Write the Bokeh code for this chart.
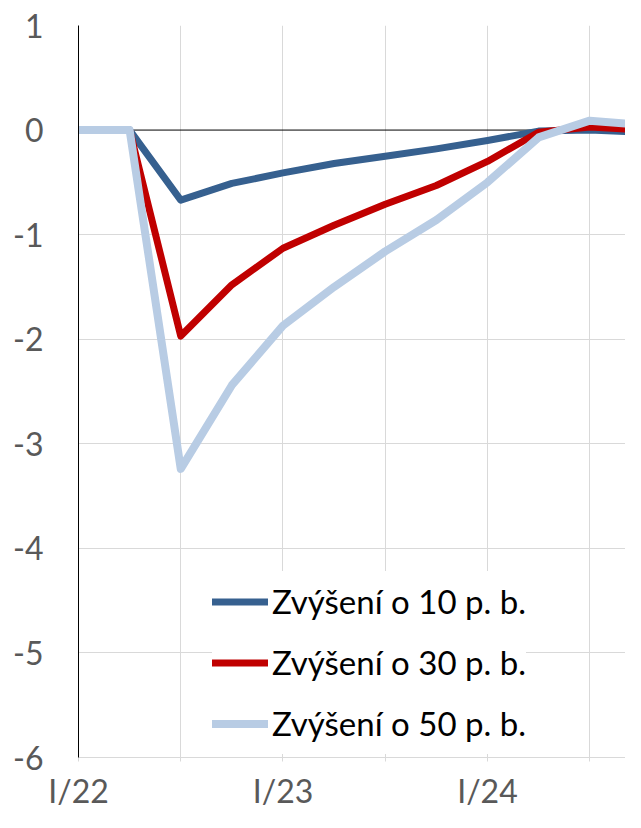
from bokeh.plotting import figure
from bokeh.models import Range1d, FixedTicker, Span, Legend, LegendItem
from bokeh.embed import file_html
from bokeh.resources import INLINE

quarters = list(range(12))
tick_labels = {0: "I/22", 4: "I/23", 8: "I/24"}
y_ticks = [-6, -5, -4, -3, -2, -1, 0, 1]
y_labels = {v: str(v) for v in y_ticks}
s10 = [0, 0, -0.67, -0.51, -0.41, -0.32, -0.25, -0.18, -0.10, -0.01, 0.00, -0.02]
s30 = [0, 0, -1.97, -1.48, -1.13, -0.91, -0.71, -0.53, -0.30, -0.02, 0.03, 0.00]
s50 = [0, 0, -3.24, -2.44, -1.87, -1.50, -1.16, -0.86, -0.50, -0.07, 0.09, 0.05]
names = ["Zvýšení o 10 p. b.", "Zvýšení o 30 p. b.", "Zvýšení o 50 p. b."]
colors = ["#36608f", "#c00000", "#b8cce4"]

FONT = "Lato"
GRAY = "#595959"
GRID = "#d9d9d9"

p = figure(width=625, height=812, output_backend="svg", toolbar_location=None,
           x_range=Range1d(0, 10.70), y_range=Range1d(-6, 1),
           min_border_left=78, min_border_right=0, min_border_top=25, min_border_bottom=52)
p.outline_line_color = None
p.background_fill_color = "white"

# y axis
p.yaxis.ticker = FixedTicker(ticks=y_ticks)
p.yaxis.major_label_overrides = y_labels
p.yaxis.axis_line_color = "black"
p.yaxis.major_tick_out = 0
p.yaxis.major_tick_in = 0
p.yaxis.minor_tick_out = 0
p.yaxis.major_label_standoff = 35
p.yaxis.major_label_text_font = FONT
p.yaxis.major_label_text_font_size = "32px"
p.yaxis.major_label_text_color = GRAY

# x axis
p.xaxis.ticker = FixedTicker(ticks=[0, 4, 8], minor_ticks=[2, 6, 10])
p.xaxis.major_label_overrides = tick_labels
p.xaxis.axis_line_color = GRID
p.xaxis.major_tick_line_color = GRID
p.xaxis.minor_tick_line_color = GRID
p.xaxis.major_tick_out = 4
p.xaxis.major_tick_in = 0
p.xaxis.minor_tick_out = 4
p.xaxis.minor_tick_in = 0
p.xaxis.major_label_standoff = 9
p.xaxis.major_label_text_font = FONT
p.xaxis.major_label_text_font_size = "32px"
p.xaxis.major_label_text_color = GRAY

p.xgrid.ticker = FixedTicker(ticks=[2, 4, 6, 8, 10])
p.xgrid.grid_line_color = GRID
p.ygrid.ticker = FixedTicker(ticks=[-5, -4, -3, -2, -1, 1])
p.ygrid.grid_line_color = GRID

zero = Span(location=0, dimension="width", line_color="black", line_width=1, level="underlay")
p.add_layout(zero)

items = []
widths = [7, 7, 8]
for ys, name, c, w in zip([s10, s30, s50], names, colors, widths):
    r = p.line(quarters, ys, line_color=c, line_width=w, line_join="round", line_cap="round")
    items.append(LegendItem(label=name, renderers=[r]))

legend = Legend(items=items, location=(134, 3.5), padding=0, margin=0, spacing=0,
                glyph_width=56, glyph_height=61, label_height=61, label_standoff=4,
                label_text_font=FONT, label_text_font_size="33px", label_text_color="black",
                border_line_color=None, background_fill_color="white", background_fill_alpha=1)
p.add_layout(legend, "center")

open("out.html", "w").write(file_html(p, INLINE))
